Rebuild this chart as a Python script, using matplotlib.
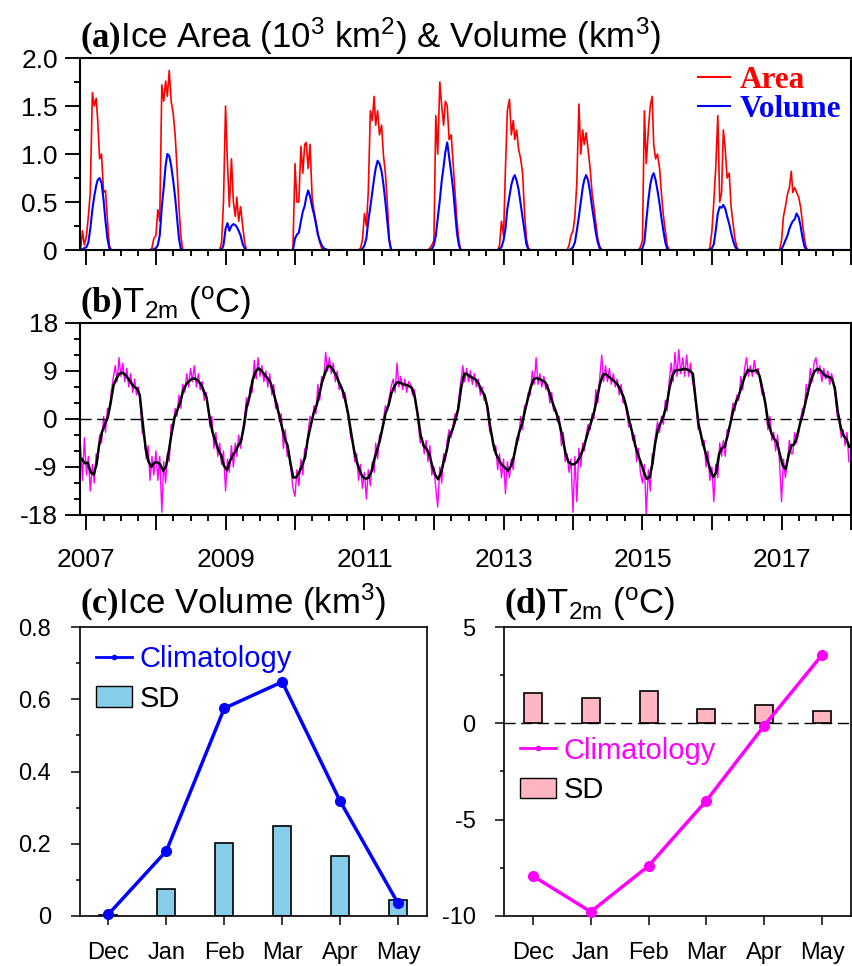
import numpy as np
import pandas as pd
import matplotlib
matplotlib.use("Agg")
import matplotlib.pyplot as plt
import matplotlib.dates as mdates
from matplotlib.ticker import MultipleLocator, FuncFormatter
from matplotlib.lines import Line2D
from matplotlib.patches import Patch

plt.rcParams["font.family"] = ["Liberation Sans", "DejaVu Sans"]
plt.rcParams["axes.unicode_minus"] = False
plt.rcParams["mathtext.fontset"] = "custom"
plt.rcParams["mathtext.rm"] = "Liberation Sans"
plt.rcParams["mathtext.it"] = "Liberation Sans"
plt.rcParams["mathtext.bf"] = "Liberation Serif:bold"

# ---- data -------------------------------------------------------------
seasons = list(range(2007, 2018))
# ice area / volume, 10-day steps: Dec 1, 11, 21 (previous year) ... Jun 1, 11
ice_area = [
    0.0, 0.2, 0.05, 0.15, 0.35, 0.6, 1.64, 1.5, 1.58, 1.35, 0.95, 1.0, 0.6, 0.62, 0.32, 0.05, 0.0, 0.0, 0.0, 0.0,
    0.0, 0.02, 0.12, 0.15, 0.42, 0.3, 1.72, 1.55, 1.76, 1.6, 1.87, 1.55, 1.42, 1.2, 0.85, 0.45, 0.15, 0.0, 0.0, 0.0,
    0.0, 0.08, 0.5, 1.5, 0.9, 0.45, 0.95, 0.5, 0.35, 0.55, 0.3, 0.45, 0.25, 0.08, 0.0, 0.0, 0.0, 0.0, 0.0, 0.0,
    0.0, 0.0, 0.0, 0.9, 0.5, 0.5, 1.08, 0.8, 1.1, 1.12, 0.85, 1.1, 0.55, 0.4, 0.3, 0.18, 0.08, 0.02, 0.0, 0.0,
    0.0, 0.02, 0.1, 0.38, 0.25, 0.6, 1.45, 1.35, 1.6, 1.3, 1.45, 1.2, 1.3, 0.98, 0.8, 0.5, 0.12, 0.0, 0.0, 0.0,
    0.0, 0.02, 0.05, 0.1, 1.4, 1.0, 1.75, 1.5, 1.3, 1.55, 1.5, 1.15, 1.2, 0.9, 0.6, 0.3, 0.1, 0.0, 0.0, 0.0,
    0.0, 0.05, 0.3, 0.15, 0.85, 1.45, 1.57, 1.2, 1.35, 1.15, 1.25, 1.05, 0.95, 0.8, 0.4, 0.12, 0.02, 0.0, 0.0, 0.0,
    0.0, 0.05, 0.15, 0.2, 0.35, 0.7, 1.52, 1.0, 1.25, 1.1, 1.22, 1.05, 0.85, 0.6, 0.45, 0.28, 0.12, 0.04, 0.0, 0.0,
    0.0, 0.0, 0.03, 0.1, 1.45, 0.9, 1.25, 1.5, 1.6, 1.1, 0.95, 1.0, 0.85, 0.58, 0.36, 0.2, 0.05, 0.0, 0.0, 0.0,
    0.0, 0.0, 0.02, 0.2, 0.5, 0.85, 1.4, 0.5, 0.6, 1.25, 1.05, 0.75, 0.8, 0.45, 0.28, 0.12, 0.03, 0.0, 0.0, 0.0,
    0.0, 0.0, 0.0, 0.1, 0.35, 0.45, 0.58, 0.65, 0.82, 0.6, 0.65, 0.6, 0.55, 0.45, 0.28, 0.12, 0.02, 0.0, 0.0, 0.0,
]
ice_volume = [
    0.0, 0.01, 0.02, 0.03, 0.08, 0.22, 0.42, 0.56, 0.67, 0.73, 0.75, 0.7, 0.52, 0.3, 0.12, 0.02, 0.0, 0.0, 0.0, 0.0,
    0.0, 0.0, 0.01, 0.02, 0.05, 0.15, 0.45, 0.65, 0.88, 1.0, 0.98, 0.88, 0.72, 0.55, 0.33, 0.12, 0.01, 0.0, 0.0, 0.0,
    0.0, 0.0, 0.05, 0.22, 0.28, 0.2, 0.25, 0.27, 0.26, 0.24, 0.2, 0.15, 0.06, 0.02, 0.0, 0.0, 0.0, 0.0, 0.0, 0.0,
    0.0, 0.0, 0.0, 0.12, 0.16, 0.18, 0.3, 0.4, 0.46, 0.55, 0.62, 0.56, 0.45, 0.37, 0.27, 0.16, 0.1, 0.05, 0.02, 0.01,
    0.0, 0.0, 0.01, 0.05, 0.12, 0.3, 0.45, 0.6, 0.75, 0.85, 0.93, 0.9, 0.82, 0.68, 0.5, 0.3, 0.1, 0.0, 0.0, 0.0,
    0.0, 0.0, 0.01, 0.05, 0.15, 0.33, 0.52, 0.72, 0.87, 1.02, 1.12, 0.97, 0.8, 0.63, 0.4, 0.18, 0.05, 0.0, 0.0, 0.0,
    0.0, 0.01, 0.03, 0.1, 0.22, 0.43, 0.56, 0.68, 0.75, 0.78, 0.72, 0.63, 0.48, 0.35, 0.2, 0.06, 0.01, 0.0, 0.0, 0.0,
    0.0, 0.0, 0.01, 0.03, 0.08, 0.2, 0.35, 0.5, 0.65, 0.73, 0.78, 0.73, 0.6, 0.45, 0.32, 0.18, 0.08, 0.02, 0.0, 0.0,
    0.0, 0.0, 0.0, 0.02, 0.08, 0.3, 0.52, 0.68, 0.77, 0.8, 0.73, 0.62, 0.48, 0.33, 0.2, 0.08, 0.01, 0.0, 0.0, 0.0,
    0.0, 0.0, 0.0, 0.02, 0.06, 0.2, 0.38, 0.45, 0.44, 0.47, 0.43, 0.35, 0.27, 0.18, 0.1, 0.04, 0.01, 0.0, 0.0, 0.0,
    0.0, 0.0, 0.0, 0.01, 0.05, 0.1, 0.15, 0.22, 0.27, 0.3, 0.32, 0.38, 0.34, 0.25, 0.13, 0.04, 0.0, 0.0, 0.0, 0.0,
]

# T2m smoothed (black), two values per month (days 8 and 23), Dec 2006 - Dec 2017
t2m_smooth = [
    -7.5, -8.3,
    -8.2, -10.0, -10.4, -8.5, -5.0, -2.5, -1.0, 0.3, 3.0, 6.3, 7.6, 8.5, 8.7, 8.3, 7.6, 6.8, 6.0, 5.75, 4.5, -0.5, -5.5, -8.0, -9.0, -8.2,
    -8.1, -8.5, -9.7, -8.9, -6.2, -2.8, 0.3, 1.7, 3.2, 5.3, 6.5, 7.1, 7.5, 7.6, 7.2, 6.6, 5.3, 4.0, 0.6, -2.3, -4.1, -5.7, -6.8, -8.7,
    -9.6, -8.0, -6.8, -6.0, -5.0, -4.2, -1.3, 2.5, 4.3, 7.3, 8.9, 9.5, 9.1, 8.4, 7.7, 7.0, 5.3, 3.1, 1.0, -1.3, -3.6, -5.0, -8.3, -11.0,
    -10.9, -10.0, -8.6, -7.2, -4.0, -1.5, 1.0, 2.4, 4.5, 6.9, 8.6, 10.0, 9.8, 9.0, 8.0, 6.6, 5.4, 3.4, 0.8, -2.6, -6.0, -8.2, -9.8, -10.9,
    -11.2, -11.0, -9.7, -7.4, -5.9, -4.0, -1.3, 1.2, 2.6, 4.9, 6.2, 6.9, 6.8, 6.5, 6.4, 6.2, 5.8, 4.0, 0.8, -3.0, -5.0, -5.6, -6.6, -8.8,
    -10.5, -11.3, -10.0, -7.7, -6.0, -3.2, -2.0, -0.2, 1.9, 5.8, 8.5, 8.4, 8.0, 7.7, 7.4, 6.6, 5.3, 4.5, 2.3, -1.5, -4.7, -6.6, -7.7, -8.6,
    -9.1, -9.7, -8.9, -7.2, -5.0, -2.6, -0.9, 1.5, 3.7, 5.9, 7.4, 7.7, 7.5, 7.2, 6.9, 5.7, 3.9, 2.3, 0.9, -1.1, -3.6, -6.5, -8.0, -8.5,
    -8.5, -8.0, -7.0, -5.7, -4.1, -2.2, -0.4, 1.5, 4.1, 6.6, 8.4, 8.4, 7.9, 7.5, 7.0, 6.5, 5.4, 4.2, 2.3, -0.2, -2.5, -4.8, -6.6, -8.1,
    -9.9, -11.2, -10.9, -8.3, -4.7, -2.0, -0.6, 0.7, 2.6, 5.8, 8.2, 9.1, 9.2, 9.2, 9.4, 9.3, 9.0, 8.5, 3.5, -1.0, -3.5, -5.6, -7.6, -9.5,
    -10.9, -10.0, -6.5, -5.4, -5.2, -3.2, -0.7, 1.7, 3.3, 4.6, 6.5, 8.1, 9.2, 9.0, 9.0, 9.2, 8.0, 5.5, 2.9, -0.7, -2.6, -3.7, -4.4, -6.6,
    -8.8, -9.4, -6.6, -4.9, -4.8, -3.3, -0.9, 0.9, 3.3, 5.6, 7.6, 8.9, 9.4, 9.2, 8.5, 8.0, 7.9, 7.5, 5.8, 1.5, -1.6, -3.1, -3.8, -5.2,
]

# T2m raw (magenta), days 1, 11, 21 of each month, Dec 2006 - Dec 2017
t2m_raw = [
    -5.0, -11.5, -3.5,
    -10.5, -7.0, -13.5, -8.5, -12.0, -6.5, -7.5, -3.0, -4.5, 0.5, -2.5, 2.0, 1.5, 5.0, 7.5, 10.0, 7.0, 11.5,
    8.0, 10.5, 7.0, 9.5, 6.0, 8.5, 5.0, 7.5, 4.5, 6.0, 3.0, -2.5, -3.5, -7.5, -5.0, -11.5, -7.0, -10.5,
    -6.0, -11.5, -7.0, -17.5, -8.0, -12.0, -6.5, -8.0, -1.0, -1.5, 2.0, 0.5, 4.5, 2.0, 6.5, 5.0, 8.5, 6.0,
    9.5, 7.0, 10.0, 6.0, 8.5, 5.5, 7.0, 3.5, 5.0, 2.0, -1.5, 0.5, -5.5, -2.5, -7.0, -4.5, -8.5, -6.0,
    -13.5, -7.5, -10.0, -5.0, -9.0, -4.5, -7.0, -3.0, -5.5, -2.0, 0.5, 4.0, 2.5, 6.0, 5.0, 11.0, 7.5, 11.5,
    8.0, 10.0, 7.0, 9.0, 6.0, 8.5, 4.5, 6.5, 2.0, 3.0, -0.5, 1.0, -5.5, -2.0, -7.0, -6.5, -9.5, -13.0,
    -14.5, -9.5, -12.5, -7.5, -10.5, -5.5, -6.0, -2.5, 0.5, -0.5, 2.5, 1.0, 6.5, 3.5, 8.0, 7.5, 12.5, 9.0,
    11.5, 8.5, 10.5, 7.0, 9.0, 5.5, 6.5, 4.0, 5.0, 2.0, -0.5, -3.5, -4.5, -8.0, -6.5, -11.5, -8.5, -13.0,
    -10.0, -15.0, -9.5, -12.5, -8.0, -10.0, -4.5, -7.5, -3.0, -2.5, 0.0, 2.5, 1.5, 4.0, 6.0, 7.5, 5.0, 10.5,
    6.0, 8.0, 5.5, 7.5, 5.0, 7.0, 6.5, 4.5, 5.5, 2.0, -1.0, -4.5, -3.5, -6.5, -4.0, -8.0, -5.0, -10.5,
    -9.0, -13.0, -16.5, -9.0, -12.0, -6.5, -8.0, -4.0, -2.0, -3.5, -1.0, 1.0, 0.5, 4.0, 7.0, 10.0, 7.0, 9.5,
    7.0, 9.0, 6.5, 8.5, 6.0, 7.5, 4.5, 6.0, 3.5, 3.5, 0.5, -2.5, -3.0, -6.0, -5.0, -9.5, -6.5, -11.0,
    -7.5, -14.0, -8.0, -11.0, -7.5, -9.5, -6.0, -3.5, -4.0, 0.5, -2.0, 2.5, 2.5, 5.0, 4.5, 9.0, 6.5, 11.5,
    6.5, 8.5, 6.0, 8.0, 5.5, 6.5, 3.0, 5.0, 1.5, 2.0, -0.5, 0.5, -5.0, -2.5, -8.0, -6.5, -10.0, -7.5,
    -17.5, -7.0, -15.5, -5.5, -9.0, -4.5, -6.0, -3.0, -1.0, -2.0, 1.0, 0.0, 5.5, 3.0, 7.5, 12.0, 7.0, 10.0,
    7.0, 9.5, 6.5, 8.5, 6.0, 7.5, 4.5, 6.5, 3.0, 3.5, 1.0, -1.5, -1.0, -4.0, -3.0, -8.0, -5.5, -10.0,
    -12.0, -8.5, -18.0, -9.5, -13.5, -6.5, -6.5, -3.0, -0.5, -2.5, 0.5, -1.0, 3.5, 1.5, 7.0, 10.5, 7.0, 12.5,
    8.0, 13.0, 8.5, 11.5, 8.0, 12.0, 8.0, 10.5, 7.0, 5.0, 2.0, -2.0, -2.0, -5.0, -4.0, -9.0, -6.0, -11.5,
    -9.0, -15.5, -8.5, -11.0, -4.5, -7.0, -4.0, -7.0, -2.0, -2.0, 0.5, 3.0, 1.5, 4.5, 3.5, 8.0, 5.5, 9.5,
    11.5, 8.0, 10.0, 8.0, 11.0, 8.5, 9.5, 7.0, 4.5, 5.0, 1.5, -2.0, 0.5, -4.0, -2.5, -6.0, -3.0, -8.0,
    -15.5, -7.5, -11.0, -8.0, -4.0, -6.5, -6.5, -2.5, -4.5, -2.5, 0.0, 2.0, 2.0, 6.5, 4.5, 9.5, 7.0, 10.5,
    11.5, 8.5, 10.0, 7.0, 9.5, 7.5, 9.0, 6.5, 8.5, 7.0, 4.0, 0.5, -0.5, -3.5, -2.0, -5.0, -2.5, -8.0,
]

months = ["Dec", "Jan", "Feb", "Mar", "Apr", "May"]
vol_clim = [0.005, 0.18, 0.575, 0.648, 0.318, 0.035]
vol_sd = [0.002, 0.076, 0.203, 0.25, 0.166, 0.045]
t_clim = [-7.92, -9.78, -7.4, -4.01, -0.12, 3.55]
t_sd = [1.56, 1.33, 1.70, 0.74, 0.95, 0.66]

# ---- time axes --------------------------------------------------------
month_list = [(2006, 12)] + [(y, m) for y in range(2007, 2018) for m in range(1, 13)]
tenday = pd.DatetimeIndex([pd.Timestamp(y, m, d) for y, m in month_list for d in (1, 11, 21)])
halfmonth = pd.DatetimeIndex([pd.Timestamp(y, m, d) for y, m in month_list for d in (8, 23)])

area = np.zeros(len(tenday))
volume = np.zeros(len(tenday))
for k, yr in enumerate(seasons):
    i0 = 36 * (yr - 2007)
    area[i0:i0 + 20] = ice_area[20 * k:20 * k + 20]
    volume[i0:i0 + 20] = ice_volume[20 * k:20 * k + 20]

# ---- figure -----------------------------------------------------------
W, H = 852, 966
fig = plt.figure(figsize=(W / 100, H / 100), dpi=100)
ax_a = fig.add_axes([80 / W, 1 - 250 / H, 771 / W, 192 / H])
ax_b = fig.add_axes([80 / W, 1 - 515 / H, 771 / W, 192 / H])
ax_c = fig.add_axes([79.5 / W, 1 - 916 / H, 347.5 / W, 289 / H])
ax_d = fig.add_axes([504 / W, 1 - 916 / H, 347 / W, 289 / H])

title_fs = 25
tick_fs = 19
tick_fs2 = 17


def style_axes(ax, lw, major, minor, fs, pad):
    for s in ax.spines.values():
        s.set_linewidth(lw)
    ax.tick_params(which="both", direction="out", top=False, right=False,
                   width=lw * 0.9, labelsize=fs, pad=pad)
    ax.tick_params(which="major", length=major)
    ax.tick_params(which="minor", length=minor)


def add_title(ax, text, dy):
    ax.text(0.0, 1.0 + dy, text, transform=ax.transAxes, fontsize=title_fs,
            ha="left", va="baseline")


xmin, xmax = pd.Timestamp("2006-11-28"), pd.Timestamp("2018-01-01")

# (a) ice area and volume
ax_a.plot(tenday, area, color="red", lw=1.2)
ax_a.plot(tenday, volume, color="blue", lw=1.5)
ax_a.set_xlim(xmin, xmax)
ax_a.set_ylim(0, 2.0)
ax_a.yaxis.set_major_locator(MultipleLocator(0.5))
ax_a.yaxis.set_minor_locator(MultipleLocator(0.25))
ax_a.yaxis.set_major_formatter(FuncFormatter(lambda v, p: "0" if v == 0 else f"{v:.1f}"))
ax_a.xaxis.set_major_locator(mdates.YearLocator(1))
ax_a.xaxis.set_minor_locator(mdates.MonthLocator(bymonth=[4, 7, 10]))
ax_a.set_xticklabels([])
style_axes(ax_a, 1.5, 11, 4, tick_fs, 5)
add_title(ax_a, r"$\mathbf{(a)}$Ice Area (10$^3$ km$^2$) & Volume (km$^3$)", 0.057)
leg_a = ax_a.legend([Line2D([], [], color="red", lw=1.5), Line2D([], [], color="blue", lw=1.5)],
                    ["Area", "Volume"], loc="upper left", bbox_to_anchor=(0.801, 0.958),
                    frameon=False, handlelength=1.05, handletextpad=0.3, labelspacing=0.01,
                    borderpad=0.0, borderaxespad=0.0,
                    prop={"family": "Liberation Serif", "weight": "bold", "size": 22.5})
leg_a.get_texts()[0].set_color("red")
leg_a.get_texts()[1].set_color("blue")

# (b) 2 m temperature
ax_b.plot(tenday, t2m_raw, color="#ff00ff", lw=1.0, zorder=2)
ax_b.axhline(0, color="black", lw=1.0, ls=(0, (8, 4)), zorder=3)
ax_b.plot(halfmonth, t2m_smooth, color="black", lw=1.8, zorder=4)
ax_b.set_xlim(xmin, xmax)
ax_b.set_ylim(-18, 18)
ax_b.yaxis.set_major_locator(MultipleLocator(9))
ax_b.yaxis.set_minor_locator(MultipleLocator(3))
ax_b.yaxis.set_major_formatter(FuncFormatter(lambda v, p: f"{v:.0f}"))
ax_b.xaxis.set_major_locator(mdates.YearLocator(1))
ax_b.xaxis.set_minor_locator(mdates.MonthLocator(bymonth=[4, 7, 10]))
ax_b.xaxis.set_major_formatter(FuncFormatter(
    lambda v, p: str(mdates.num2date(v).year) if mdates.num2date(v).year % 2 == 1 else ""))
style_axes(ax_b, 1.5, 11, 4, tick_fs, 5)
ax_b.tick_params(axis="x", which="major", pad=13)
add_title(ax_b, r"$\mathbf{(b)}$T$_{\mathrm{2m}}$ ($^{\mathrm{o}}$C)", 0.057)

# (c) ice volume climatology
xc = np.arange(len(months))
ax_c.bar(xc, vol_sd, width=0.31, color="#87ceeb", edgecolor="black", lw=1.2, zorder=2)
ax_c.plot(xc, vol_clim, color="blue", lw=2.5, marker="o", ms=7, zorder=3, clip_on=False)
ax_c.set_xlim(-0.5, 5.5)
ax_c.set_ylim(0, 0.8)
ax_c.set_xticks(xc)
ax_c.set_xticklabels(months)
ax_c.yaxis.set_major_locator(MultipleLocator(0.2))
ax_c.yaxis.set_minor_locator(MultipleLocator(0.1))
ax_c.yaxis.set_major_formatter(FuncFormatter(lambda v, p: "0" if abs(v) < 1e-9 else f"{v:.1f}"))
style_axes(ax_c, 1.2, 6.5, 3, tick_fs2, 14)
ax_c.tick_params(axis="x", pad=12)
add_title(ax_c, r"$\mathbf{(c)}$Ice Volume (km$^3$)", 0.048)
leg_c = ax_c.legend([Line2D([], [], color="blue", lw=2, marker="o", ms=3),
                     Patch(facecolor="#87ceeb", edgecolor="black", lw=1.0)],
                    ["Climatology", "SD"], loc="upper left", bbox_to_anchor=(0.047, 0.938),
                    frameon=False, handlelength=1.25, handletextpad=0.25, labelspacing=0.4,
                    borderpad=0.0, borderaxespad=0.0, fontsize=21)
leg_c.get_texts()[0].set_color("blue")

# (d) temperature climatology
ax_d.bar(xc, t_sd, width=0.31, color="#ffb6c1", edgecolor="black", lw=1.2, zorder=2)
ax_d.axhline(0, color="black", lw=1.0, ls=(0, (8, 4)), zorder=3)
ax_d.plot(xc, t_clim, color="#ff00ff", lw=2.5, marker="o", ms=7, zorder=4, clip_on=False)
ax_d.set_xlim(-0.5, 5.5)
ax_d.set_ylim(-10, 5)
ax_d.set_xticks(xc)
ax_d.set_xticklabels(months)
ax_d.yaxis.set_major_locator(MultipleLocator(5))
ax_d.yaxis.set_minor_locator(MultipleLocator(2.5))
ax_d.yaxis.set_major_formatter(FuncFormatter(lambda v, p: f"{v:.0f}"))
style_axes(ax_d, 1.2, 6.5, 3, tick_fs2, 14)
ax_d.tick_params(axis="x", pad=12)
add_title(ax_d, r"$\mathbf{(d)}$T$_{\mathrm{2m}}$ ($^{\mathrm{o}}$C)", 0.048)
leg_d = ax_d.legend([Line2D([], [], color="#ff00ff", lw=2, marker="o", ms=3),
                     Patch(facecolor="#ffb6c1", edgecolor="black", lw=1.0)],
                    ["Climatology", "SD"], loc="upper left", bbox_to_anchor=(0.046, 0.621),
                    frameon=False, handlelength=1.25, handletextpad=0.25, labelspacing=0.4,
                    borderpad=0.0, borderaxespad=0.0, fontsize=21)
leg_d.get_texts()[0].set_color("#ff00ff")

fig.savefig("out.png", dpi=100)
